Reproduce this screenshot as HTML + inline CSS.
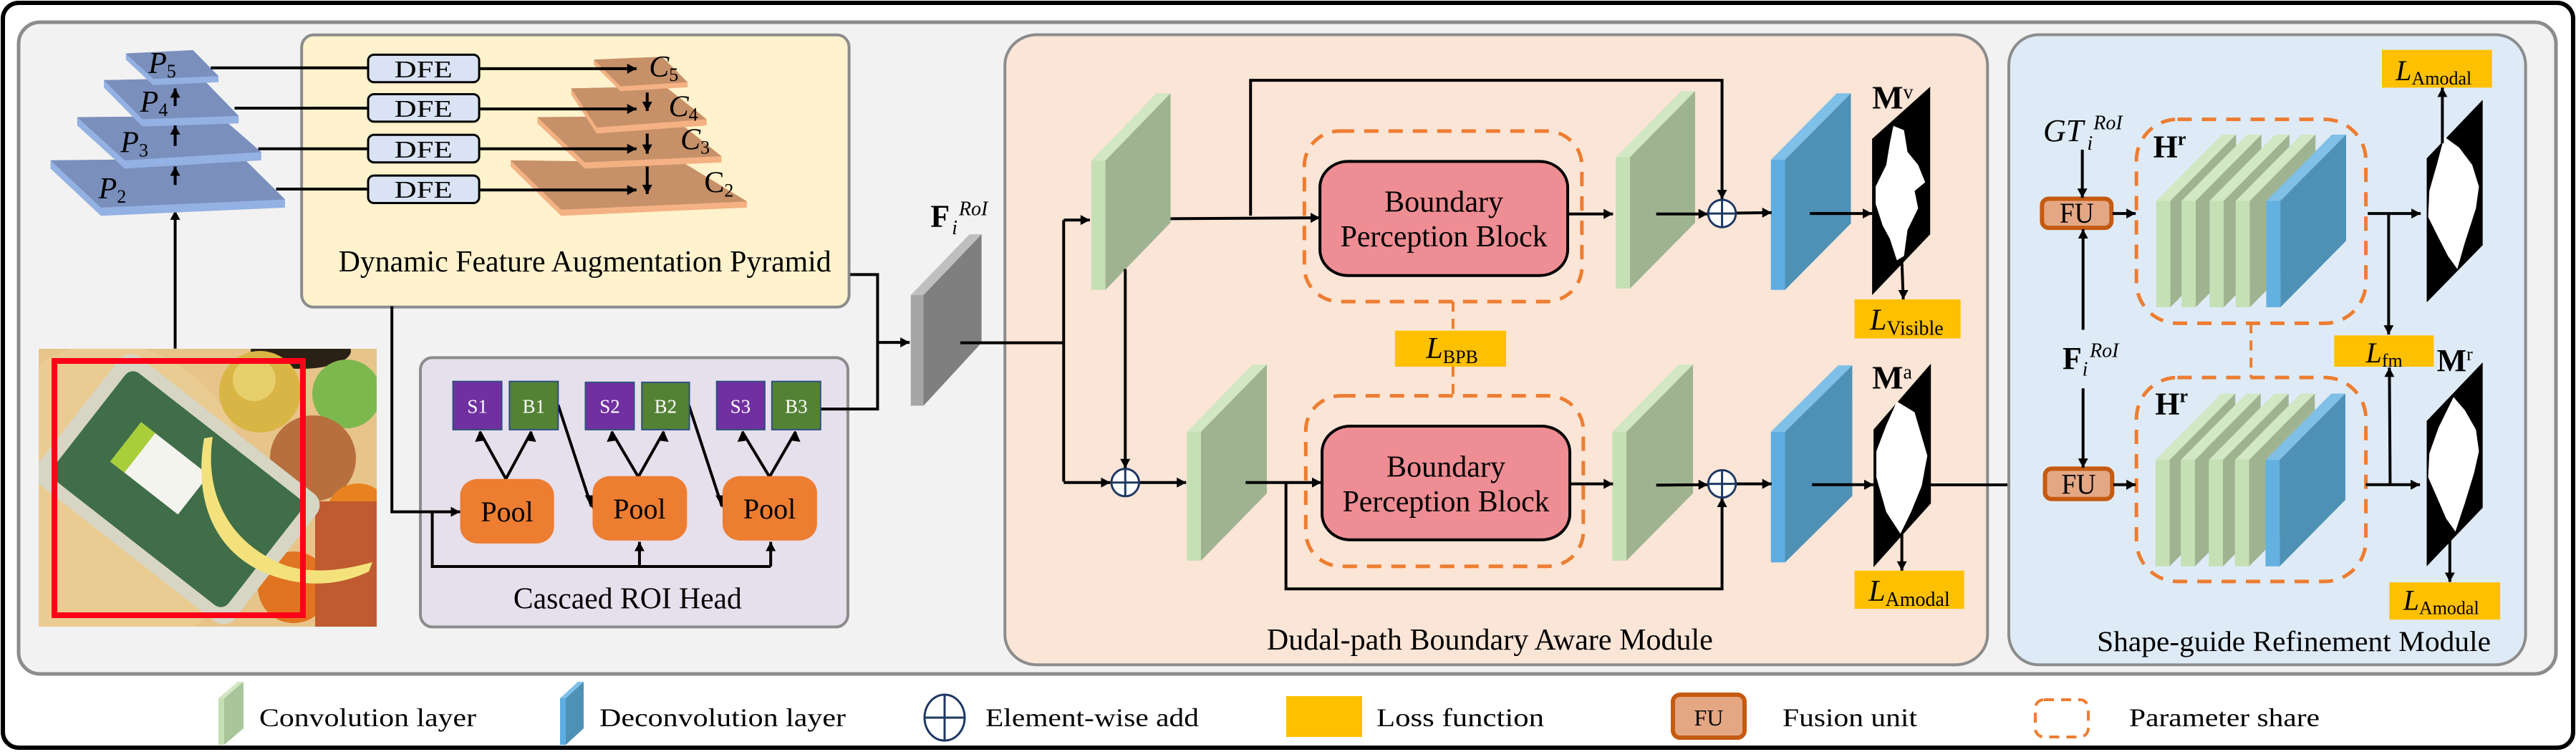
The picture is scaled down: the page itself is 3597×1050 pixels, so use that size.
<!DOCTYPE html>
<html><head><meta charset="utf-8"><style>
html,body{margin:0;padding:0;background:#fff;}
svg{display:block;}
text{font-family:"Liberation Serif",serif;fill:#000;}
</style></head><body>
<svg width="3597" height="1050" viewBox="0 0 3597 1050" xmlns="http://www.w3.org/2000/svg">
<defs>
<marker id="rR" markerUnits="userSpaceOnUse" orient="0" overflow="visible" markerWidth="1" markerHeight="1"><path d="M0,0 L-13,-7 L-13,7Z" fill="#000"/></marker>
<marker id="aR" markerUnits="userSpaceOnUse" orient="0" overflow="visible" markerWidth="1" markerHeight="1"><path d="M0,0 L-15.7,-12.2 L-15.7,12.2Z" fill="#000"/></marker>
<marker id="aU" markerUnits="userSpaceOnUse" orient="0" overflow="visible" markerWidth="1" markerHeight="1"><path d="M0,0 L-8.4,22.6 L8.4,22.6Z" fill="#000"/></marker>
<marker id="aD" markerUnits="userSpaceOnUse" orient="0" overflow="visible" markerWidth="1" markerHeight="1"><path d="M0,0 L-8.4,-22.6 L8.4,-22.6Z" fill="#000"/></marker>
<marker id="bR" markerUnits="userSpaceOnUse" orient="0" overflow="visible" markerWidth="1" markerHeight="1"><path d="M0,0 L-13.2,-11.6 L-13.2,11.6Z" fill="#000"/></marker>
<marker id="bU" markerUnits="userSpaceOnUse" orient="0" overflow="visible" markerWidth="1" markerHeight="1"><path d="M0,0 L-7.1,21.5 L7.1,21.5Z" fill="#000"/></marker>
<marker id="bD" markerUnits="userSpaceOnUse" orient="0" overflow="visible" markerWidth="1" markerHeight="1"><path d="M0,0 L-7.1,-21.5 L7.1,-21.5Z" fill="#000"/></marker>
<marker id="cR" markerUnits="userSpaceOnUse" orient="0" overflow="visible" markerWidth="1" markerHeight="1"><path d="M0,0 L-25,-11.6 L-25,11.6Z" fill="#000"/></marker>
<marker id="cU" markerUnits="userSpaceOnUse" orient="0" overflow="visible" markerWidth="1" markerHeight="1"><path d="M0,0 L-13.4,21.5 L13.4,21.5Z" fill="#000"/></marker>
<marker id="cD" markerUnits="userSpaceOnUse" orient="0" overflow="visible" markerWidth="1" markerHeight="1"><path d="M0,0 L-13.4,-21.5 L13.4,-21.5Z" fill="#000"/></marker>
<clipPath id="imgc"><rect x="54" y="487" width="472" height="388"/></clipPath>
</defs>

<rect x="4" y="4" width="3589" height="1040" rx="22" fill="#fff" stroke="#000" stroke-width="6"/>
<rect x="26" y="31" width="3543" height="910" rx="30" fill="#f2f2f2" stroke="#8c8c8c" stroke-width="5"/>

<g clip-path="url(#imgc)">
<rect x="54" y="487" width="472" height="388" fill="#e6c48a"/>
<ellipse cx="150" cy="700" rx="200" ry="220" fill="#eacb92"/>
<ellipse cx="420" cy="490" rx="70" ry="25" fill="#2a2016"/>
<circle cx="363" cy="547" r="57" fill="#d9b545"/>
<circle cx="355" cy="530" r="30" fill="#e6cf6a"/>
<circle cx="484" cy="550" r="48" fill="#7db84e"/>
<circle cx="437" cy="640" r="60" fill="#b86f3e"/>
<circle cx="500" cy="720" r="45" fill="#e8821e"/>
<circle cx="410" cy="820" r="50" fill="#e07420"/>
<rect x="440" y="700" width="90" height="175" fill="#c05a30"/>
<g transform="rotate(38 247 683)">
<rect x="72" y="570" width="350" height="226" rx="20" fill="#d7d6c4"/>
<rect x="92" y="588" width="310" height="190" rx="14" fill="#3f6e48"/>
<rect x="150" y="640" width="120" height="70" fill="#f4f4ee"/>
<rect x="150" y="640" width="25" height="70" fill="#a8cf3a"/>
</g>
<path d="M297,610 C285,690 320,760 400,790 C450,805 500,790 520,785 L515,798 C470,820 420,820 370,800 C300,770 270,700 285,612Z" fill="#f3e27c"/>
</g>
<rect x="76" y="504" width="347" height="355" fill="none" stroke="#ff0019" stroke-width="8"/>

<g transform="matrix(0.8291 0 0 0.574 0 0)">
<rect x="508" y="85" width="922" height="662" rx="20" ry="30" fill="#fff2cc" stroke="#8c8c8c" stroke-width="4" vector-effect="non-scaling-stroke"/>
<rect x="708" y="870" width="720" height="655" rx="20" ry="30" fill="#e6e0ec" stroke="#8c8c8c" stroke-width="4" vector-effect="non-scaling-stroke"/>
<line x1="295" y1="848" x2="295" y2="512" stroke="#000" stroke-width="4" marker-end="url(#aU)" vector-effect="non-scaling-stroke"/>
<g>
<polygon points="85,390 410,385 480,485 480,505 170,525 85,410" fill="#93b1e2"/>
<polygon points="85,390 410,385 480,485 170,505" fill="#7a8fbc"/>
<polygon points="130,285 370,282 440,370 440,390 210,410 130,305" fill="#93b1e2"/>
<polygon points="130,285 370,282 440,370 210,390" fill="#7a8fbc"/>
<polygon points="175,195 340,190 402,282 402,300 240,308 175,213" fill="#93b1e2"/>
<polygon points="175,195 340,190 402,282 240,290" fill="#7a8fbc"/>
<polygon points="212,130 325,122 368,185 368,200 258,207 212,145" fill="#93b1e2"/>
<polygon points="212,130 325,122 368,185 258,192" fill="#7a8fbc"/>
</g>
<g>
<polygon points="860,390 1150,395 1258,490 1258,505 945,525 860,405" fill="#f4b183"/>
<polygon points="860,390 1150,395 1258,490 945,510" fill="#c69069"/>
<polygon points="905,285 1130,282 1215,380 1215,395 985,410 905,300" fill="#f4b183"/>
<polygon points="905,285 1130,282 1215,380 985,395" fill="#c69069"/>
<polygon points="962,215 1120,210 1190,290 1190,305 1005,325 962,230" fill="#f4b183"/>
<polygon points="962,215 1120,210 1190,290 1005,310" fill="#c69069"/>
<polygon points="1000,145 1115,138 1158,200 1158,212 1045,222 1000,157" fill="#f4b183"/>
<polygon points="1000,145 1115,138 1158,200 1045,210" fill="#c69069"/>
</g>
<g stroke="#000" stroke-width="4" fill="none">
<line x1="295" y1="450" x2="295" y2="405" marker-end="url(#aU)" vector-effect="non-scaling-stroke"/>
<line x1="295" y1="355" x2="295" y2="305" marker-end="url(#aU)" vector-effect="non-scaling-stroke"/>
<line x1="295" y1="258" x2="295" y2="215" marker-end="url(#aU)" vector-effect="non-scaling-stroke"/>
<line x1="355" y1="165" x2="620" y2="165" vector-effect="non-scaling-stroke"/>
<line x1="395" y1="263" x2="620" y2="263" vector-effect="non-scaling-stroke"/>
<line x1="435" y1="362" x2="620" y2="362" vector-effect="non-scaling-stroke"/>
<line x1="465" y1="460" x2="620" y2="460" vector-effect="non-scaling-stroke"/>
<line x1="807" y1="167" x2="1072" y2="167" marker-end="url(#aR)" vector-effect="non-scaling-stroke"/>
<line x1="807" y1="265" x2="1072" y2="265" marker-end="url(#aR)" vector-effect="non-scaling-stroke"/>
<line x1="807" y1="362" x2="1072" y2="362" marker-end="url(#aR)" vector-effect="non-scaling-stroke"/>
<line x1="807" y1="462" x2="1072" y2="462" marker-end="url(#aR)" vector-effect="non-scaling-stroke"/>
<line x1="1090" y1="225" x2="1090" y2="270" marker-end="url(#aD)" vector-effect="non-scaling-stroke"/>
<line x1="1090" y1="325" x2="1090" y2="374" marker-end="url(#aD)" vector-effect="non-scaling-stroke"/>
<line x1="1090" y1="405" x2="1090" y2="472" marker-end="url(#aD)" vector-effect="non-scaling-stroke"/>
<polyline points="660,745 660,1245 775,1245" marker-end="url(#aR)" vector-effect="non-scaling-stroke"/>
<polyline points="728,1245 728,1378 1298,1378" vector-effect="non-scaling-stroke"/>
<line x1="1077" y1="1378" x2="1077" y2="1318" marker-end="url(#aU)" vector-effect="non-scaling-stroke"/>
<line x1="1298" y1="1378" x2="1298" y2="1318" marker-end="url(#aU)" vector-effect="non-scaling-stroke"/>
<line x1="852" y1="1165" x2="808" y2="1050" vector-effect="non-scaling-stroke"/>
<line x1="852" y1="1165" x2="895" y2="1050" vector-effect="non-scaling-stroke"/>
<line x1="1075" y1="1160" x2="1030" y2="1050" vector-effect="non-scaling-stroke"/>
<line x1="1075" y1="1160" x2="1118" y2="1050" vector-effect="non-scaling-stroke"/>
<line x1="1296" y1="1160" x2="1250" y2="1050" vector-effect="non-scaling-stroke"/>
<line x1="1296" y1="1160" x2="1340" y2="1050" vector-effect="non-scaling-stroke"/>
<line x1="940" y1="985" x2="996" y2="1232" vector-effect="non-scaling-stroke"/>
<line x1="1160" y1="985" x2="1216" y2="1232" vector-effect="non-scaling-stroke"/>
<polyline points="1382,995 1478,995 1478,668 1432,668" vector-effect="non-scaling-stroke"/>
<line x1="1478" y1="833" x2="1532" y2="833" marker-end="url(#aR)" vector-effect="non-scaling-stroke"/>
</g>
<g fill="#000">
<path d="M808,1048 L800,1075 L814,1072Z"/><path d="M895,1048 L889,1072 L903,1075Z"/>
<path d="M1030,1048 L1022,1075 L1036,1072Z"/><path d="M1118,1048 L1112,1072 L1126,1075Z"/>
<path d="M1250,1048 L1242,1075 L1256,1072Z"/><path d="M1340,1048 L1334,1072 L1348,1075Z"/>
<path d="M998,1238 L985,1205 L1001,1205Z"/><path d="M1218,1238 L1205,1205 L1221,1205Z"/>
</g>
<g fill="#dae3f3" stroke="#000" stroke-width="3">
<rect x="620" y="133" width="187" height="67" rx="10" ry="14" vector-effect="non-scaling-stroke"/>
<rect x="620" y="229" width="187" height="67" rx="10" ry="14" vector-effect="non-scaling-stroke"/>
<rect x="620" y="328" width="187" height="67" rx="10" ry="14" vector-effect="non-scaling-stroke"/>
<rect x="620" y="427" width="187" height="67" rx="10" ry="14" vector-effect="non-scaling-stroke"/>
</g>
<g stroke="#2f4f7f" stroke-width="2">
<rect x="763" y="928" width="82" height="117" fill="#7030a0" vector-effect="non-scaling-stroke"/>
<rect x="858" y="928" width="82" height="117" fill="#548235" vector-effect="non-scaling-stroke"/>
<rect x="986" y="930" width="82" height="115" fill="#7030a0" vector-effect="non-scaling-stroke"/>
<rect x="1081" y="930" width="80" height="115" fill="#548235" vector-effect="non-scaling-stroke"/>
<rect x="1207" y="928" width="81" height="117" fill="#7030a0" vector-effect="non-scaling-stroke"/>
<rect x="1300" y="928" width="82" height="117" fill="#548235" vector-effect="non-scaling-stroke"/>
</g>
<g fill="#ed7d31">
<rect x="775" y="1165" width="158" height="157" rx="30" ry="40"/>
<rect x="998" y="1158" width="159" height="157" rx="30" ry="40"/>
<rect x="1217" y="1158" width="159" height="157" rx="30" ry="40"/>
</g>
<g font-size="34" text-anchor="middle">
<text transform="translate(713,188) scale(1.206,1.742)" textLength="81" lengthAdjust="spacingAndGlyphs">DFE</text>
<text transform="translate(713,284) scale(1.206,1.742)" textLength="81" lengthAdjust="spacingAndGlyphs">DFE</text>
<text transform="translate(713,383) scale(1.206,1.742)" textLength="81" lengthAdjust="spacingAndGlyphs">DFE</text>
<text transform="translate(713,481) scale(1.206,1.742)" textLength="81" lengthAdjust="spacingAndGlyphs">DFE</text>
</g>
<g font-size="42" font-style="italic">
<text transform="translate(250,178) scale(1.206,1.742)">P<tspan font-size="26" dy="6" font-style="normal">5</tspan></text>
<text transform="translate(236,272) scale(1.206,1.742)">P<tspan font-size="26" dy="6" font-style="normal">4</tspan></text>
<text transform="translate(203,370) scale(1.206,1.742)">P<tspan font-size="26" dy="6" font-style="normal">3</tspan></text>
<text transform="translate(166,483) scale(1.206,1.742)">P<tspan font-size="26" dy="6" font-style="normal">2</tspan></text>
<text transform="translate(1093,186) scale(1.206,1.742)">C<tspan font-size="26" dy="6" font-style="normal">5</tspan></text>
<text transform="translate(1126,283) scale(1.206,1.742)">C<tspan font-size="26" dy="6" font-style="normal">4</tspan></text>
<text transform="translate(1146,363) scale(1.206,1.742)">C<tspan font-size="26" dy="6" font-style="normal">3</tspan></text>
<text transform="translate(1186,468) scale(1.206,1.742)" font-style="normal">C<tspan font-size="26" dy="6">2</tspan></text>
</g>
<text transform="translate(985,660) scale(1.206,1.742)" font-size="42" text-anchor="middle" textLength="688" lengthAdjust="spacingAndGlyphs">Dynamic Feature Augmentation Pyramid</text>
<g font-size="27" text-anchor="middle">
<text transform="translate(804,1004) scale(1.206,1.742)" style="fill:#fff">S1</text>
<text transform="translate(899,1004) scale(1.206,1.742)" style="fill:#fff">B1</text>
<text transform="translate(1027,1004) scale(1.206,1.742)" style="fill:#fff">S2</text>
<text transform="translate(1121,1004) scale(1.206,1.742)" style="fill:#fff">B2</text>
<text transform="translate(1247,1004) scale(1.206,1.742)" style="fill:#fff">S3</text>
<text transform="translate(1341,1004) scale(1.206,1.742)" style="fill:#fff">B3</text>
</g>
<g font-size="40" text-anchor="middle">
<text transform="translate(854,1268) scale(1.206,1.742)">Pool</text>
<text transform="translate(1077,1261) scale(1.206,1.742)">Pool</text>
<text transform="translate(1296,1261) scale(1.206,1.742)">Pool</text>
</g>
<text transform="translate(1057,1480) scale(1.206,1.742)" font-size="42" text-anchor="middle" textLength="319" lengthAdjust="spacingAndGlyphs">Cascaed ROI Head</text>
</g>

<g transform="matrix(0.9885 0 0 0.6059 1250 0)">
<rect x="155" y="80" width="1388" height="1452" rx="45" ry="70" fill="#fbe5d6" stroke="#8c8c8c" stroke-width="4" vector-effect="non-scaling-stroke"/>
<polygon points="22,680 40,680 40,935 22,935" fill="#a6a6a6"/>
<polygon points="22,680 105,540 122,540 40,680" fill="#bfbfbf"/>
<polygon points="40,680 122,540 122,790 40,935" fill="#7f7f7f"/>
<g>
<polygon points="277,370 297,370 297,668 277,668" fill="#c5e0b4"/><polygon points="277,370 369,215 389,215 297,370" fill="#d2e7c4"/><polygon points="297,370 389,215 389,513 297,668" fill="#9fb391"/>
<polygon points="1018,362 1038,362 1038,665 1018,665" fill="#c5e0b4"/><polygon points="1018,362 1110,210 1130,210 1038,362" fill="#d2e7c4"/><polygon points="1038,362 1130,210 1130,513 1038,665" fill="#9fb391"/>
<polygon points="412,995 432,995 432,1292 412,1292" fill="#c5e0b4"/><polygon points="412,995 505,840 525,840 432,995" fill="#d2e7c4"/><polygon points="432,995 525,840 525,1137 432,1292" fill="#9fb391"/>
<polygon points="1013,995 1033,995 1033,1292 1013,1292" fill="#c5e0b4"/><polygon points="1013,995 1107,840 1127,840 1033,995" fill="#d2e7c4"/><polygon points="1033,995 1127,840 1127,1137 1033,1292" fill="#9fb391"/>
<polygon points="1237,368 1257,368 1257,668 1237,668" fill="#5dade2"/><polygon points="1237,368 1330,215 1350,215 1257,368" fill="#7fc0e8"/><polygon points="1257,368 1350,215 1350,515 1257,668" fill="#4f91b5"/>
<polygon points="1237,995 1257,995 1257,1296 1237,1296" fill="#5dade2"/><polygon points="1237,995 1332,842 1352,842 1257,995" fill="#7fc0e8"/><polygon points="1257,995 1352,842 1352,1143 1257,1296" fill="#4f91b5"/>
</g>
<polygon points="1380,320 1462,200 1462,540 1380,680" fill="#000"/>
<polygon points="1410,290 1425,300 1430,350 1445,380 1455,420 1440,440 1445,480 1430,530 1425,590 1415,600 1405,550 1395,520 1385,470 1385,430 1400,380 1405,330" fill="#fff"/>
<polygon points="1382,990 1463,838 1463,1160 1382,1307" fill="#000"/>
<polygon points="1415,925 1440,950 1458,1050 1450,1120 1435,1180 1420,1230 1400,1180 1386,1100 1386,1040 1400,980" fill="#fff"/>
<rect x="578" y="302" width="392" height="393" rx="50" ry="80" fill="none" stroke="#ed7d31" stroke-width="5" stroke-dasharray="20 14" vector-effect="non-scaling-stroke"/>
<rect x="580" y="912" width="392" height="393" rx="50" ry="80" fill="none" stroke="#ed7d31" stroke-width="5" stroke-dasharray="20 14" vector-effect="non-scaling-stroke"/>
<rect x="600" y="372" width="350" height="263" rx="40" ry="60" fill="#ee8d93" stroke="#000" stroke-width="4" vector-effect="non-scaling-stroke"/>
<rect x="603" y="982" width="350" height="262" rx="40" ry="60" fill="#ee8d93" stroke="#000" stroke-width="4" vector-effect="non-scaling-stroke"/>
<g stroke="#ed7d31" stroke-width="4" stroke-dasharray="14 10">
<line x1="788" y1="695" x2="788" y2="762" vector-effect="non-scaling-stroke"/>
<line x1="788" y1="845" x2="788" y2="912" vector-effect="non-scaling-stroke"/>
</g>
<rect x="706" y="762" width="157" height="83" fill="#ffc000"/>
<rect x="1355" y="690" width="150" height="90" fill="#ffc000"/>
<rect x="1355" y="1315" width="155" height="88" fill="#ffc000"/>
<g stroke="#000" stroke-width="4" fill="none">
<line x1="92" y1="790" x2="238" y2="790" vector-effect="non-scaling-stroke"/>
<line x1="238" y1="507" x2="238" y2="1110" vector-effect="non-scaling-stroke"/>
<line x1="238" y1="507" x2="275" y2="507" marker-end="url(#bR)" vector-effect="non-scaling-stroke"/>
<line x1="238" y1="1112" x2="304" y2="1112" marker-end="url(#bR)" vector-effect="non-scaling-stroke"/>
<line x1="389" y1="504" x2="600" y2="502" marker-end="url(#bR)" vector-effect="non-scaling-stroke"/>
<polyline points="502,497 502,185 1168,185 1168,459" marker-end="url(#bD)" vector-effect="non-scaling-stroke"/>
<line x1="325" y1="620" x2="325" y2="1079" marker-end="url(#bD)" vector-effect="non-scaling-stroke"/>
<line x1="345" y1="1112" x2="411" y2="1112" marker-end="url(#bR)" vector-effect="non-scaling-stroke"/>
<line x1="495" y1="1112" x2="602" y2="1112" marker-end="url(#bR)" vector-effect="non-scaling-stroke"/>
<polyline points="552,1112 552,1357 1168,1357 1168,1147" marker-end="url(#bU)" vector-effect="non-scaling-stroke"/>
<line x1="950" y1="493" x2="1014" y2="493" marker-end="url(#bR)" vector-effect="non-scaling-stroke"/>
<line x1="1075" y1="493" x2="1148" y2="493" marker-end="url(#bR)" vector-effect="non-scaling-stroke"/>
<line x1="1188" y1="491" x2="1238" y2="490" marker-end="url(#bR)" vector-effect="non-scaling-stroke"/>
<line x1="1292" y1="492" x2="1380" y2="492" marker-end="url(#bR)" vector-effect="non-scaling-stroke"/>
<line x1="1422" y1="600" x2="1424" y2="690" marker-end="url(#bD)" vector-effect="non-scaling-stroke"/>
<line x1="952" y1="1115" x2="1014" y2="1115" marker-end="url(#bR)" vector-effect="non-scaling-stroke"/>
<line x1="1075" y1="1118" x2="1148" y2="1117" marker-end="url(#bR)" vector-effect="non-scaling-stroke"/>
<line x1="1188" y1="1115" x2="1238" y2="1115" marker-end="url(#bR)" vector-effect="non-scaling-stroke"/>
<line x1="1295" y1="1117" x2="1382" y2="1117" marker-end="url(#bR)" vector-effect="non-scaling-stroke"/>
<line x1="1422" y1="1230" x2="1422" y2="1315" marker-end="url(#bD)" vector-effect="non-scaling-stroke"/>
</g>
<g stroke="#1f3864" stroke-width="3" fill="#fff">
<ellipse cx="325" cy="1112" rx="19.5" ry="31.5" vector-effect="non-scaling-stroke"/>
<ellipse cx="1168" cy="492" rx="19.5" ry="31.5" vector-effect="non-scaling-stroke"/>
<ellipse cx="1168" cy="1115" rx="19.5" ry="31.5" vector-effect="non-scaling-stroke"/>
</g>
<g stroke="#1f3864" stroke-width="3">
<line x1="305.5" y1="1112" x2="344.5" y2="1112" vector-effect="non-scaling-stroke"/><line x1="325" y1="1080.5" x2="325" y2="1143.5" vector-effect="non-scaling-stroke"/>
<line x1="1148.5" y1="492" x2="1187.5" y2="492" vector-effect="non-scaling-stroke"/><line x1="1168" y1="460.5" x2="1168" y2="523.5" vector-effect="non-scaling-stroke"/>
<line x1="1148.5" y1="1115" x2="1187.5" y2="1115" vector-effect="non-scaling-stroke"/><line x1="1168" y1="1083.5" x2="1168" y2="1146.5" vector-effect="non-scaling-stroke"/>
</g>
<g font-size="42" text-anchor="middle">
<text transform="translate(775,488) scale(1.0116,1.650)" textLength="166" lengthAdjust="spacingAndGlyphs">Boundary</text>
<text transform="translate(775,568) scale(1.0116,1.650)" textLength="289" lengthAdjust="spacingAndGlyphs">Perception Block</text>
<text transform="translate(778,1098) scale(1.0116,1.650)" textLength="166" lengthAdjust="spacingAndGlyphs">Boundary</text>
<text transform="translate(778,1178) scale(1.0116,1.650)" textLength="289" lengthAdjust="spacingAndGlyphs">Perception Block</text>
<text transform="translate(840,1497) scale(1.0116,1.650)" textLength="623" lengthAdjust="spacingAndGlyphs">Dudal-path Boundary Aware Module</text>
</g>
<text transform="translate(750,825) scale(1.0116,1.650)" font-size="42" font-style="italic">L<tspan font-size="26" font-style="normal" dy="7">BPB</tspan></text>
<text transform="translate(1377,760) scale(1.0116,1.650)" font-size="42" font-style="italic">L<tspan font-size="28" font-style="normal" dy="7">Visible</tspan></text>
<text transform="translate(1375,1385) scale(1.0116,1.650)" font-size="42" font-style="italic">L<tspan font-size="28" font-style="normal" dy="7">Amodal</tspan></text>
<text transform="translate(1380,250) scale(1.0116,1.650)" font-size="46" font-weight="bold">M<tspan font-size="28" font-weight="normal" dy="-14">v</tspan></text>
<text transform="translate(1380,895) scale(1.0116,1.650)" font-size="46" font-weight="bold">M<tspan font-size="28" font-weight="normal" dy="-14">a</tspan></text>
<text transform="translate(50,522) scale(1.0116,1.650)" font-size="44" font-weight="bold">F</text>
<text transform="translate(90,496) scale(1.0116,1.650)" font-size="28" font-style="italic">RoI</text>
<text transform="translate(80,540) scale(1.0116,1.650)" font-size="28" font-style="italic">i</text>
</g>

<line x1="2696" y1="677" x2="2853" y2="677" stroke="#000" stroke-width="4" marker-end="url(#rR)"/>

<g transform="matrix(0.521 0 0 0.6059 2780 0)">
<rect x="48" y="80" width="1385" height="1452" rx="80" ry="70" fill="#deebf7" stroke="#8c8c8c" stroke-width="4" vector-effect="non-scaling-stroke"/>
<rect x="390" y="275" width="615" height="470" rx="110" ry="95" fill="none" stroke="#ed7d31" stroke-width="5" stroke-dasharray="20 14" vector-effect="non-scaling-stroke"/>
<rect x="390" y="870" width="615" height="470" rx="110" ry="95" fill="none" stroke="#ed7d31" stroke-width="5" stroke-dasharray="20 14" vector-effect="non-scaling-stroke"/>
<line x1="697" y1="745" x2="697" y2="870" stroke="#ed7d31" stroke-width="4" stroke-dasharray="14 10" vector-effect="non-scaling-stroke"/>
<g>
<polygon points="443,463 481,463 481,708 443,708" fill="#c5e0b4"/><polygon points="443,463 619,310 657,310 481,463" fill="#d2e7c4"/><polygon points="481,463 657,310 657,555 481,708" fill="#9fb391"/>
<polygon points="511,463 549,463 549,708 511,708" fill="#c5e0b4"/><polygon points="511,463 687,310 725,310 549,463" fill="#d2e7c4"/><polygon points="549,463 725,310 725,555 549,708" fill="#9fb391"/>
<polygon points="586,463 624,463 624,708 586,708" fill="#c5e0b4"/><polygon points="586,463 762,310 800,310 624,463" fill="#d2e7c4"/><polygon points="624,463 800,310 800,555 624,708" fill="#9fb391"/>
<polygon points="656,463 694,463 694,708 656,708" fill="#c5e0b4"/><polygon points="656,463 832,310 870,310 694,463" fill="#d2e7c4"/><polygon points="694,463 870,310 870,555 694,708" fill="#9fb391"/>
<polygon points="738,463 776,463 776,708 738,708" fill="#62b1e1"/><polygon points="738,463 914,310 952,310 776,463" fill="#80c0e6"/><polygon points="776,463 952,310 952,555 776,708" fill="#4f91b5"/>
</g>
<g transform="translate(-2,597)">
<polygon points="443,463 481,463 481,708 443,708" fill="#c5e0b4"/><polygon points="443,463 619,310 657,310 481,463" fill="#d2e7c4"/><polygon points="481,463 657,310 657,555 481,708" fill="#9fb391"/>
<polygon points="511,463 549,463 549,708 511,708" fill="#c5e0b4"/><polygon points="511,463 687,310 725,310 549,463" fill="#d2e7c4"/><polygon points="549,463 725,310 725,555 549,708" fill="#9fb391"/>
<polygon points="586,463 624,463 624,708 586,708" fill="#c5e0b4"/><polygon points="586,463 762,310 800,310 624,463" fill="#d2e7c4"/><polygon points="624,463 800,310 800,555 624,708" fill="#9fb391"/>
<polygon points="656,463 694,463 694,708 656,708" fill="#c5e0b4"/><polygon points="656,463 832,310 870,310 694,463" fill="#d2e7c4"/><polygon points="694,463 870,310 870,555 694,708" fill="#9fb391"/>
<polygon points="738,463 776,463 776,708 738,708" fill="#62b1e1"/><polygon points="738,463 914,310 952,310 776,463" fill="#80c0e6"/><polygon points="776,463 952,310 952,555 776,708" fill="#4f91b5"/>
</g>
<polygon points="1168,365 1318,230 1318,565 1168,697" fill="#000"/>
<polygon points="1215,315 1255,340 1290,380 1308,430 1300,480 1270,560 1250,620 1225,590 1195,540 1172,500 1175,440 1195,380" fill="#fff"/>
<polygon points="1168,970 1318,835 1318,1170 1168,1305" fill="#000"/>
<polygon points="1240,915 1270,945 1300,990 1308,1040 1295,1090 1270,1160 1245,1225 1220,1195 1195,1145 1172,1100 1175,1045 1200,985" fill="#fff"/>
<rect x="1048" y="115" width="295" height="87" fill="#ffc000"/>
<rect x="920" y="773" width="267" height="72" fill="#ffc000"/>
<rect x="1068" y="1342" width="297" height="86" fill="#ffc000"/>
<rect x="137" y="458" width="186" height="67" rx="18" ry="15" fill="#e4a784" stroke="#c55a11" stroke-width="6" vector-effect="non-scaling-stroke"/>
<rect x="145" y="1080" width="180" height="70" rx="18" ry="15" fill="#e4a784" stroke="#c55a11" stroke-width="6" vector-effect="non-scaling-stroke"/>
<g stroke="#000" stroke-width="4" fill="none">
<line x1="245" y1="345" x2="245" y2="456" marker-end="url(#cD)" vector-effect="non-scaling-stroke"/>
<line x1="247" y1="760" x2="247" y2="528" marker-end="url(#cU)" vector-effect="non-scaling-stroke"/>
<line x1="247" y1="895" x2="247" y2="1078" marker-end="url(#cD)" vector-effect="non-scaling-stroke"/>
<line x1="326" y1="492" x2="388" y2="492" marker-end="url(#cR)" vector-effect="non-scaling-stroke"/>
<line x1="328" y1="1117" x2="388" y2="1117" marker-end="url(#cR)" vector-effect="non-scaling-stroke"/>
<line x1="1010" y1="492" x2="1152" y2="492" marker-end="url(#cR)" vector-effect="non-scaling-stroke"/>
<line x1="1066" y1="492" x2="1066" y2="771" marker-end="url(#cD)" vector-effect="non-scaling-stroke"/>
<line x1="1005" y1="1117" x2="1150" y2="1117" marker-end="url(#cR)" vector-effect="non-scaling-stroke"/>
<line x1="1070" y1="1117" x2="1068" y2="847" marker-end="url(#cU)" vector-effect="non-scaling-stroke"/>
<line x1="1210" y1="330" x2="1210" y2="202" marker-end="url(#cU)" vector-effect="non-scaling-stroke"/>
<line x1="1230" y1="1240" x2="1230" y2="1341" marker-end="url(#cD)" vector-effect="non-scaling-stroke"/>
</g>
<g font-size="40" text-anchor="middle">
<text transform="translate(230,513) scale(1.919,1.650)" textLength="48" lengthAdjust="spacingAndGlyphs">FU</text>
<text transform="translate(235,1138) scale(1.919,1.650)" textLength="48" lengthAdjust="spacingAndGlyphs">FU</text>
</g>
<text transform="translate(140,325) scale(1.919,1.650)" font-size="44" font-style="italic">GT</text>
<text transform="translate(275,298) scale(1.919,1.650)" font-size="28" font-style="italic">RoI</text>
<text transform="translate(258,345) scale(1.919,1.650)" font-size="28" font-style="italic">i</text>
<text transform="translate(192,850) scale(1.919,1.650)" font-size="44" font-weight="bold">F</text>
<text transform="translate(265,823) scale(1.919,1.650)" font-size="28" font-style="italic">RoI</text>
<text transform="translate(245,866) scale(1.919,1.650)" font-size="28" font-style="italic">i</text>
<text transform="translate(435,362) scale(1.919,1.650)" font-size="44" font-weight="bold">H<tspan font-size="26" dy="-17">r</tspan></text>
<text transform="translate(440,955) scale(1.919,1.650)" font-size="44" font-weight="bold">H<tspan font-size="26" dy="-17">r</tspan></text>
<text transform="translate(1195,855) scale(1.919,1.650)" font-size="44" font-weight="bold">M<tspan font-size="26" font-weight="normal" dy="-15">r</tspan></text>
<text transform="translate(1085,185) scale(1.919,1.650)" font-size="40" font-style="italic">L<tspan font-size="26" font-style="normal" dy="6">Amodal</tspan></text>
<text transform="translate(1005,835) scale(1.919,1.650)" font-size="40" font-style="italic">L<tspan font-size="26" font-style="normal" dy="6">fm</tspan></text>
<text transform="translate(1105,1405) scale(1.919,1.650)" font-size="40" font-style="italic">L<tspan font-size="26" font-style="normal" dy="6">Amodal</tspan></text>
<text transform="translate(812,1500) scale(1.919,1.650)" font-size="40" text-anchor="middle" textLength="550" lengthAdjust="spacingAndGlyphs">Shape-guide Refinement Module</text>
</g>

<polygon points="305,975 313,975 313,1040 305,1040" fill="#c5e0b4"/>
<polygon points="305,975 332,952 340,952 313,975" fill="#d2e7c4"/>
<polygon points="313,975 340,952 340,1017 313,1040" fill="#a9c59a"/>
<polygon points="782,975 790,975 790,1040 782,1040" fill="#5dade2"/>
<polygon points="782,975 807,952 815,952 790,975" fill="#7fc0e8"/>
<polygon points="790,975 815,952 815,1017 790,1040" fill="#4f91b5"/>
<ellipse cx="1319" cy="1002" rx="28" ry="32" fill="#fff" stroke="#1f3864" stroke-width="3"/>
<line x1="1291" y1="1002" x2="1347" y2="1002" stroke="#1f3864" stroke-width="3"/>
<line x1="1319" y1="970" x2="1319" y2="1034" stroke="#1f3864" stroke-width="3"/>
<rect x="1796" y="972" width="106" height="57" fill="#ffc000"/>
<rect x="2336" y="970" width="100" height="60" rx="10" fill="#e4a784" stroke="#c55a11" stroke-width="6"/>
<text x="2386" y="1013" font-size="32" text-anchor="middle">FU</text>
<rect x="2842" y="977" width="74" height="52" rx="12" fill="none" stroke="#ed7d31" stroke-width="4" stroke-dasharray="14 10"/>
<g font-size="36">
<text x="362" y="1014" textLength="303" lengthAdjust="spacingAndGlyphs">Convolution layer</text>
<text x="837" y="1014" textLength="344" lengthAdjust="spacingAndGlyphs">Deconvolution layer</text>
<text x="1376" y="1014" textLength="298" lengthAdjust="spacingAndGlyphs">Element-wise add</text>
<text x="1922" y="1014" textLength="234" lengthAdjust="spacingAndGlyphs">Loss function</text>
<text x="2489" y="1014" textLength="188" lengthAdjust="spacingAndGlyphs">Fusion unit</text>
<text x="2973" y="1014" textLength="266" lengthAdjust="spacingAndGlyphs">Parameter share</text>
</g>
</svg>
</body></html>
